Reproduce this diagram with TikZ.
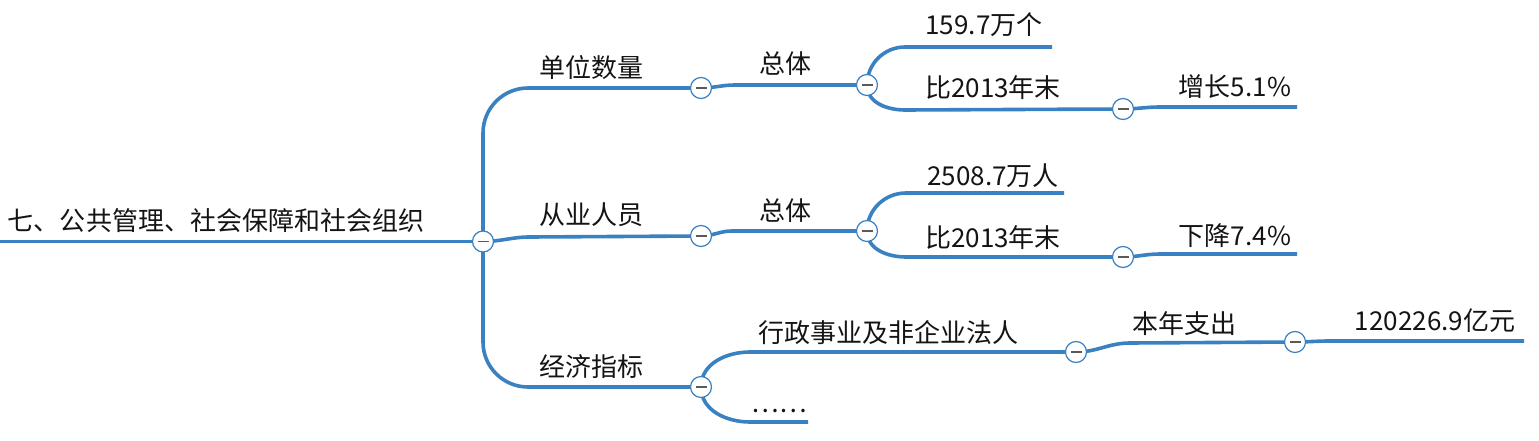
\documentclass[tikz,border=0pt]{standalone}
\usepackage{fontspec}
\setmainfont{Noto Sans CJK SC}
\usetikzlibrary{backgrounds}
\definecolor{mmblue}{RGB}{58,129,194}
\definecolor{mmtext}{RGB}{20,20,20}
\definecolor{mmminus}{RGB}{90,90,90}
\begin{document}
\begin{tikzpicture}[x=1pt,y=-1pt,
  link/.style={draw=mmblue,line width=3.6pt},
  toggle/.style={circle,fill=white,draw=mmblue,line width=1.2pt,minimum size=21pt,inner sep=0pt,
    path picture={\draw[mmminus,line width=1.6pt] ([xshift=-5.5pt]path picture bounding box.center) -- ([xshift=5.5pt]path picture bounding box.center);}},
  lbl/.style={anchor=base,inner sep=0pt,text=mmtext,font=\fontsize{26pt}{30pt}\selectfont}]
\useasboundingbox (0,0) rectangle (1539,441);
% toggles
\node[toggle] (c0) at (483,241.5) {};
\node[toggle] (c1) at (701,88) {};
\node[toggle] (c2) at (701,236) {};
\node[toggle] (c3) at (701,387) {};
\node[toggle] (c4) at (867,85) {};
\node[toggle] (c5) at (867,231) {};
\node[toggle] (c6) at (1123,109) {};
\node[toggle] (c7) at (1123,257) {};
\node[toggle] (c8) at (1076,352) {};
\node[toggle] (c9) at (1295,342) {};
% free ends
\coordinate (e0) at (0,241.5);
\coordinate (e6) at (1052,47);
\coordinate (e8) at (1297,107);
\coordinate (e9) at (1064,193);
\coordinate (e11) at (1297,254);
\coordinate (e13) at (808,422);
\coordinate (e15) at (1524,341);
% labels
\node[lbl] (t0) at (216,230) {七、公共管理、社会保障和社会组织};
\node[lbl] (t1) at (591,77.5) {单位数量};
\node[lbl] (t2) at (591,224) {从业人员};
\node[lbl] (t3) at (591,376) {经济指标};
\node[lbl] (t4) at (785,74) {总体};
\node[lbl] (t5) at (785,220) {总体};
\node[lbl] (t6) at (984,35) {159.7万个};
\node[lbl] (t7) at (993,98) {比2013年末};
\node[lbl] (t8) at (1235,97) {增长5.1\%};
\node[lbl] (t9) at (993,185) {2508.7万人};
\node[lbl] (t10) at (993,247) {比2013年末};
\node[lbl] (t11) at (1235,245) {下降7.4\%};
\node[lbl] (t12) at (888,342) {行政事业及非企业法人};
\node[lbl] (t13) at (779,412) {……};
\node[lbl] (t14) at (1184,333) {本年支出};
\node[lbl] (t15) at (1435,330) {120226.9亿元};
\begin{scope}[on background layer]
\draw[link] (e0) -- (c0.center);
\draw[link,rounded corners=45pt] (c0.center) |- (c1.center);
\draw[link] (c0.center) to[out=0,in=180] (530,237) -- (c2.center);
\draw[link,rounded corners=45pt] (c0.center) |- (c3.center);
\draw[link] (c1.center) to[out=0,in=180] (735,85) -- (c4.center);
\draw[link] (c4.center) to[out=90,in=180] (905,47) -- (e6);
\draw[link] (c4.center) to[out=-90,in=180] (905,110) -- (c6.center);
\draw[link] (c6.center) to[out=0,in=180] (1160,107) -- (e8);
\draw[link] (c2.center) to[out=0,in=180] (732,231) -- (c5.center);
\draw[link] (c5.center) to[out=90,in=180] (906,193) -- (e9);
\draw[link] (c5.center) to[out=-90,in=180] (906,257) -- (c7.center);
\draw[link] (c7.center) to[out=0,in=180] (1160,254) -- (e11);
\draw[link] (c3.center) to[out=90,in=180] (750,352) -- (c8.center);
\draw[link] (c3.center) to[out=-90,in=180] (750,422) -- (e13);
\draw[link] (c8.center) to[out=0,in=180] (1130,343) -- (c9.center);
\draw[link] (c9.center) to[out=0,in=180] (1330,341) -- (e15);
\end{scope}
\end{tikzpicture}
\end{document}
